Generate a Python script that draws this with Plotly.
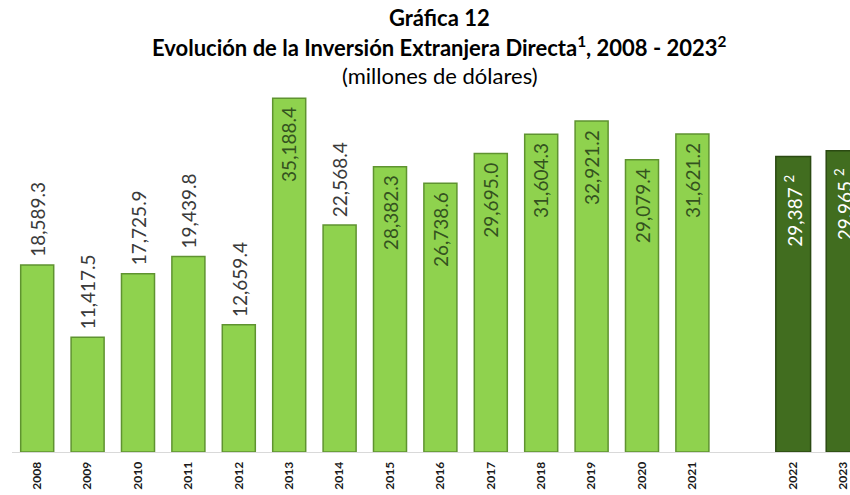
import plotly.graph_objects as go

years = ["2008", "2009", "2010", "2011", "2012", "2013", "2014", "2015",
         "2016", "2017", "2018", "2019", "2020", "2021", "2022", "2023"]
values = [18589.3, 11417.5, 17725.9, 19439.8, 12659.4, 35188.4, 22568.4, 28382.3,
          26738.6, 29695.0, 31604.3, 32921.2, 29079.4, 31621.2, 29387, 29965]
labels = ["18,589.3", "11,417.5", "17,725.9", "19,439.8", "12,659.4", "35,188.4",
          "22,568.4", "28,382.3", "26,738.6", "29,695.0", "31,604.3", "32,921.2",
          "29,079.4", "31,621.2", "29,387 <sup>2</sup>", "29,965 <sup>2</sup>"]
preliminary = ["2022", "2023"]
gap = " "
category_order = years[:14] + [gap] + years[14:]

title1 = "<b>Gráfica 12</b>"
title2 = "<b>Evolución de la Inversión Extranjera Directa<sup>1</sup>, 2008 - 2023<sup>2</sup></b>"
title3 = "(millones de dólares)"

FONT = "Lato"
LIGHT = "#8fd24e"
LIGHT_EDGE = "#5f9330"
DARK = "#416d1f"
DARK_EDGE = "#2b4a12"

W, H = 850, 495
ML, MR, MT, MB = 12, 0, 80, 43

fig = go.Figure()

final_x = [y for y in years if y not in preliminary]
final_v = [v for y, v in zip(years, values) if y not in preliminary]
pre_x = [y for y in years if y in preliminary]
pre_v = [v for y, v in zip(years, values) if y in preliminary]

fig.add_trace(go.Bar(x=final_x, y=final_v, width=0.655,
                     marker=dict(color=LIGHT, line=dict(color=LIGHT_EDGE, width=1.5)),
                     hoverinfo="skip"))
fig.add_trace(go.Bar(x=pre_x, y=pre_v, width=0.69,
                     marker=dict(color=DARK, line=dict(color=DARK_EDGE, width=1.5)),
                     hoverinfo="skip"))

annotations = []
for y, v, t in zip(years, values, labels):
    xi = category_order.index(y)
    if y in preliminary:
        annotations.append(dict(x=xi, y=v, text=t, textangle=-90, showarrow=False,
                                xanchor="center", yanchor="top", yshift=-16,
                                font=dict(family=FONT, size=19, color="#ffffff")))
    elif v < 25000:
        annotations.append(dict(x=xi, y=v, text=t, textangle=-90, showarrow=False,
                                xanchor="center", yanchor="bottom", yshift=6,
                                font=dict(family=FONT, size=19, color="#3a3a3a")))
    else:
        annotations.append(dict(x=xi, y=v, text=t, textangle=-90, showarrow=False,
                                xanchor="center", yanchor="top", yshift=-7,
                                font=dict(family=FONT, size=19, color="#34521f")))

ph = H - MT - MB
def ypaper(px):
    return (H - MB - px) / ph

pw = W - ML - MR
cx = (440 - ML) / pw
annotations.append(dict(xref="paper", yref="paper", x=cx, y=ypaper(18), text=title1,
                        showarrow=False, xanchor="center", yanchor="middle",
                        font=dict(family=FONT, size=22, color="#000000")))
annotations.append(dict(xref="paper", yref="paper", x=cx, y=ypaper(46), text=title2,
                        showarrow=False, xanchor="center", yanchor="middle",
                        font=dict(family=FONT, size=22, color="#000000")))
annotations.append(dict(xref="paper", yref="paper", x=cx, y=ypaper(75), text=title3,
                        showarrow=False, xanchor="center", yanchor="middle",
                        font=dict(family=FONT, size=22, color="#000000")))

fig.update_layout(
    width=W, height=H,
    margin=dict(l=ML, r=MR, t=MT, b=MB, pad=0),
    paper_bgcolor="white", plot_bgcolor="white",
    showlegend=False,
    annotations=annotations,
    xaxis=dict(type="category", categoryorder="array", categoryarray=category_order,
               range=[-0.5, 16.127], tickangle=-90, showgrid=False,
               showline=True, linecolor="#d9d9d9", linewidth=1,
               ticks="", ticklabelstandoff=4,
               tickfont=dict(family=FONT, size=12, color="#1a1a1a", weight="bold")),
    yaxis=dict(range=[0, 37000], visible=False, showgrid=False, zeroline=False),
)

fig.write_html("out.html", config={"displayModeBar": False},
               post_script="document.body.style.margin='0';document.body.style.overflow='hidden';")
